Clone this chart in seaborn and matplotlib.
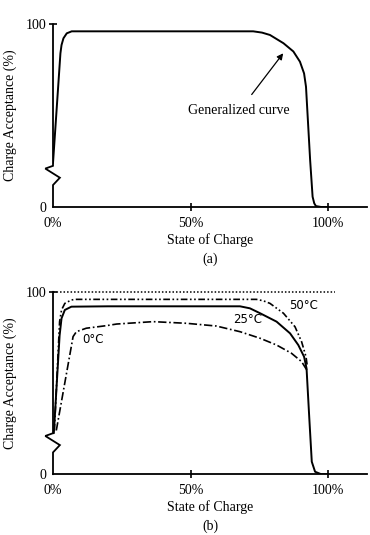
import matplotlib
matplotlib.use("Agg")
import matplotlib.pyplot as plt
import seaborn as sns

# ---------------- data ----------------
# (a) generalized charge-acceptance curve
soc_gen = [0, 2.7, 3.1, 3.8, 5.0, 6.8, 20, 50, 72.8, 76.0, 78.9, 83.8, 87.4, 89.8,
           91.3, 92.0, 93.5, 94.4, 95.0, 95.6, 97.5, 100]
acc_gen = [24, 84, 88.5, 92.2, 94.9, 96, 96, 96, 96, 95.3, 94, 89.5, 85, 79.4,
           73, 65.7, 25.7, 5.6, 2.0, 0.5, 0, 0]

# (b) temperature dependence
soc_25 = [0.3, 2.4, 3.1, 4.3, 6.7, 20, 50, 68, 71.6, 75.3, 81.3, 86.2, 89.2, 91.3,
          92.2, 93.2, 94.1, 95.3, 97.6, 100]
acc_25 = [22.5, 76, 85.4, 90, 91.8, 92, 92, 92, 90.9, 88.2, 83.6, 77.2, 70.8, 64.4,
          58, 30.7, 6.9, 1.4, 0, 0]

soc_50 = [0.5, 2.4, 3.1, 4.3, 6.7, 8.5, 50, 74, 76.5, 78.9, 83.8, 88, 90.4, 92.0, 92.5]
acc_50 = [24, 83.6, 90, 93.6, 95.5, 95.8, 95.8, 95.8, 95.0, 93.6, 88.2, 80.8, 72.6, 64.4, 58.9]

soc_0 = [1.2, 7.3, 8.5, 12.1, 19.4, 23.2, 36.4, 48.5, 59.4, 68, 75.3, 81.3, 86.7, 90.4, 92.3]
acc_0 = [24, 75.4, 78.1, 80, 81.4, 82.3, 83.6, 82.7, 81.2, 78.1, 74.5, 70.8, 66.3, 61.7, 57.1]

ref_soc = [0, 102.5]
ref_acc = [100, 100]

x_ticks = [0, 50, 100]
x_ticklabels = ["0%", "50%", "100%"]
y_ticks = [0, 100]
y_ticklabels = ["0", "100"]

# ---------------- style ----------------
sns.set_theme(style="white")
plt.rcParams["font.family"] = ["Liberation Serif", "DejaVu Serif"]
plt.rcParams["axes.linewidth"] = 1.3

W, H = 370, 535
fig = plt.figure(figsize=(W / 100, H / 100), dpi=100)
fig.patch.set_facecolor("white")

XMAX = 314 / 2.75


def style_axes(ax, panel):
    ax.set_xlim(0, XMAX)
    ax.set_ylim(0, 100)
    ax.set_facecolor("white")
    for s in ["top", "right", "left"]:
        ax.spines[s].set_visible(False)
    ax.spines["bottom"].set_color("black")
    ax.set_xticks(x_ticks)
    ax.set_xticklabels(x_ticklabels)
    ax.set_yticks(y_ticks)
    ax.set_yticklabels(y_ticklabels)
    ax.tick_params(axis="both", bottom=True, left=True, direction="inout",
                   length=6, width=1.2, color="black", labelsize=10,
                   labelcolor="black")
    ax.tick_params(axis="x", pad=4)
    ax.tick_params(axis="y", pad=2)
    ax.xaxis.get_major_ticks()[0].tick1line.set_visible(False)
    ax.yaxis.get_major_ticks()[0].tick1line.set_visible(False)
    # y axis line with break symbol
    ax.plot([0, 0, 2.5, -2.8, 0, 0], [0, 12, 16, 21, 22.5, 100],
            color="black", lw=1.3, clip_on=False, solid_joinstyle="miter")
    ax.set_ylabel("Charge Acceptance (%)", fontsize=10, color="black")
    ax.yaxis.label.set_va("center")
    ax.yaxis.set_label_coords(-42.5 / 314, 0.5)
    ax.set_xlabel("State of Charge", fontsize=10, color="black")
    ax.xaxis.label.set_va("center")
    ax.xaxis.set_label_coords(0.5, -33 / 183)
    ax.text(0.5, -52 / 183, panel, transform=ax.transAxes, ha="center",
            va="center", fontsize=10, color="black")


# ---------------- panel (a) ----------------
ax_a = fig.add_axes([53 / W, (H - 207) / H, 314 / W, 183 / H])
sns.lineplot(x=soc_gen, y=acc_gen, ax=ax_a, color="black", lw=1.4,
             sort=False, estimator=None)
style_axes(ax_a, "(a)")
ax_a.annotate("Generalized curve", xy=(83.7, 84), xytext=(67.7, 52.5),
              ha="center", va="center", fontsize=10, color="black",
              arrowprops=dict(arrowstyle="-|>", color="black", lw=0.9,
                              mutation_scale=9, shrinkA=6, shrinkB=0))

# ---------------- panel (b) ----------------
ax_b = fig.add_axes([53 / W, (H - 474.3) / H, 314 / W, 182.6 / H])
sns.lineplot(x=ref_soc, y=ref_acc, ax=ax_b, color="black", lw=1.1,
             linestyle=(0, (1, 1.3)), sort=False, estimator=None, clip_on=False)
sns.lineplot(x=soc_50, y=acc_50, ax=ax_b, color="black", lw=1.2,
             linestyle=(0, (4, 1.5, 1, 1.5, 1, 1.5)), sort=False, estimator=None)
sns.lineplot(x=soc_0, y=acc_0, ax=ax_b, color="black", lw=1.2,
             linestyle=(0, (5, 1.6, 1, 1.6)), sort=False, estimator=None)
sns.lineplot(x=soc_25, y=acc_25, ax=ax_b, color="black", lw=1.4,
             sort=False, estimator=None)
style_axes(ax_b, "(b)")

lab_font = ["DejaVu Sans"]
ax_b.text(91.0, 92.3, "50°C", ha="center", va="center", fontsize=8.5,
          family=lab_font, color="black")
ax_b.text(70.8, 84.9, "25°C", ha="center", va="center", fontsize=8.5,
          family=lab_font, color="black")
ax_b.text(14.4, 74.0, "0°C", ha="center", va="center", fontsize=8.5,
          family=lab_font, color="black")

fig.savefig("out.png", dpi=100, facecolor="white")
